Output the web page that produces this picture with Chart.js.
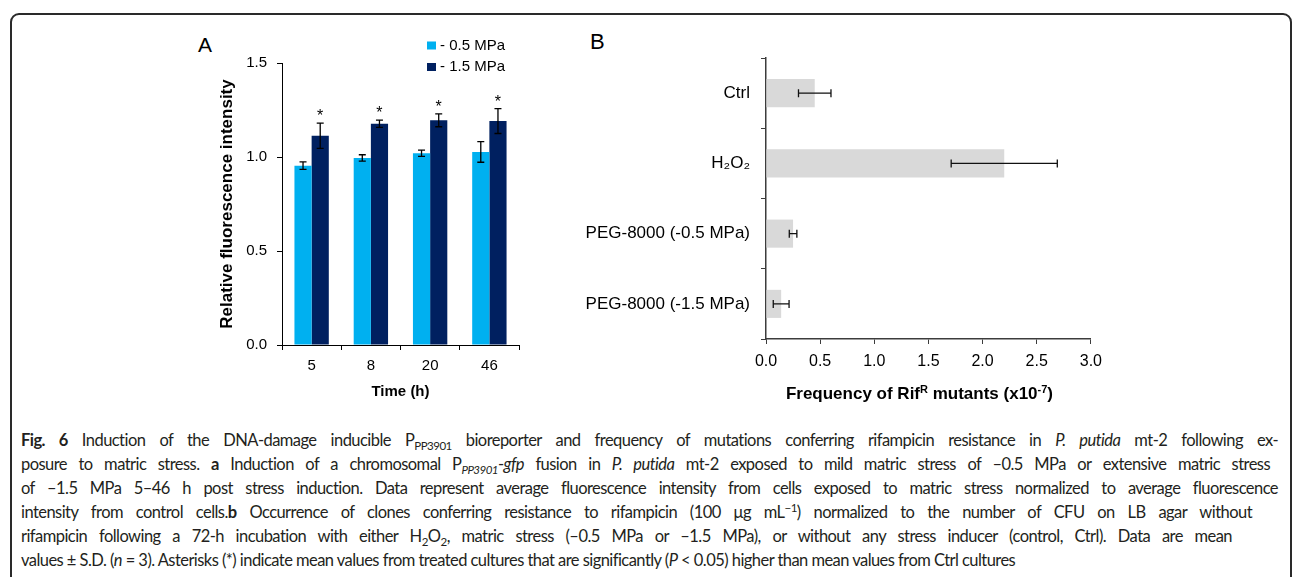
<!DOCTYPE html>
<html>
<head>
<meta charset="utf-8">
<script src="https://cdn.jsdelivr.net/npm/chart.js@4.4.0/dist/chart.umd.min.js"></script>
<style>
  html, body { margin: 0; padding: 0; background: #fff; }
  body { width: 1295px; height: 577px; overflow: hidden; position: relative; font-family: 'Liberation Sans', Arial, sans-serif; }
  #frame { position: absolute; left: 10px; top: 13px; width: 1278px; height: 620px; border: 2px solid #2a2a2a; border-radius: 9px; }
  .panel { position: absolute; line-height: 1; color: #000; }
  #wrapA { position: absolute; left: 213px; top: 20px; width: 317px; height: 385px; }
  #wrapB { position: absolute; left: 570px; top: 20px; width: 540px; height: 386px; }
  #caption { position: absolute; left: 21px; top: 429px; font-family: Lato, sans-serif; font-size: 16.5px; letter-spacing: -0.55px; line-height: 23.9px; color: #231f20; }
  #caption div { text-align: justify; text-align-last: justify; }
  #caption div.last { text-align-last: left; }
  sub, sup { font-size: 0.7em; line-height: 0; }
</style>
</head>
<body>
<div id="frame"></div>
<div class="panel" style="left:198px; top:34px; font-size:21px;">A</div>
<div class="panel" style="left:590px; top:31px; font-size:22px;">B</div>
<div id="wrapA"><canvas id="chartA"></canvas></div>
<div id="wrapB"><canvas id="chartB"></canvas></div>
<div id="caption">
  <div style="width:1257px"><b>Fig. 6</b> Induction of the DNA-damage inducible P<sub>PP3901</sub> bioreporter and frequency of mutations conferring rifampicin resistance in <i>P. putida</i> mt-2 following ex-</div>
  <div style="width:1249px">posure to matric stress. <b>a</b> Induction of a chromosomal P<sub><i>PP3901</i></sub>-<i>gfp</i> fusion in <i>P. putida</i> mt-2 exposed to mild matric stress of –0.5 MPa or extensive matric stress</div>
  <div style="width:1257px">of –1.5 MPa 5–46 h post stress induction. Data represent average fluorescence intensity from cells exposed to matric stress normalized to average fluorescence</div>
  <div style="width:1231px">intensity from control cells.<b>b</b> Occurrence of clones conferring resistance to rifampicin (100 μg mL<sup>−1</sup>) normalized to the number of CFU on LB agar without</div>
  <div style="width:1211px">rifampicin following a 72-h incubation with either H<sub>2</sub>O<sub>2</sub>, matric stress (–0.5 MPa or –1.5 MPa), or without any stress inducer (control, Ctrl). Data are mean</div>
  <div class="last">values ± S.D. (<i>n</i> = 3). Asterisks (*) indicate mean values from treated cultures that are significantly (<i>P</i> &lt; 0.05) higher than mean values from Ctrl cultures</div>
</div>
<script>
// Panel A data
const times = ['5', '8', '20', '46'];
const mildStress = [0.954, 0.995, 1.020, 1.027];
const mildStressSD = [0.020, 0.017, 0.017, 0.055];
const strongStress = [1.113, 1.177, 1.195, 1.191];
const strongStressSD = [0.067, 0.019, 0.034, 0.066];
const significant = [true, true, true, true];
const fluorTicks = [0, 0.5, 1.0, 1.5];

// Panel B data
const treatments = ['Ctrl', 'H₂O₂', 'PEG-8000 (-0.5 MPa)', 'PEG-8000 (-1.5 MPa)'];
const mutantFreq = [0.45, 2.20, 0.25, 0.14];
const mutantFreqSD = [0.15, 0.49, 0.035, 0.073];
const freqTicks = [0, 0.5, 1.0, 1.5, 2.0, 2.5, 3.0];

const FONT = "'Liberation Sans', Arial, sans-serif";
Chart.defaults.font.family = FONT;
Chart.defaults.color = '#000';

const errorBars = {
    id: 'errorBars',
    afterDatasetsDraw: (chart, args, opts) => {
        const { ctx } = chart;
        ctx.save();
        ctx.strokeStyle = opts.color;
        ctx.lineWidth = opts.lineWidth;
        chart.data.datasets.forEach((ds, di) => {
            if (!ds.errors) return;
            const meta = chart.getDatasetMeta(di);
            const vScale = meta.vScale;
            const c = opts.cap / 2;
            meta.data.forEach((bar, i) => {
                const lo = vScale.getPixelForValue(ds.data[i] - ds.errors[i]);
                const hi = vScale.getPixelForValue(ds.data[i] + ds.errors[i]);
                ctx.beginPath();
                if (bar.horizontal) {
                    ctx.moveTo(lo, bar.y); ctx.lineTo(hi, bar.y);
                    ctx.moveTo(lo, bar.y - c); ctx.lineTo(lo, bar.y + c);
                    ctx.moveTo(hi, bar.y - c); ctx.lineTo(hi, bar.y + c);
                } else {
                    ctx.moveTo(bar.x, lo); ctx.lineTo(bar.x, hi);
                    ctx.moveTo(bar.x - c, lo); ctx.lineTo(bar.x + c, lo);
                    ctx.moveTo(bar.x - c, hi); ctx.lineTo(bar.x + c, hi);
                }
                ctx.stroke();
            });
        });
        ctx.restore();
    }
};

const asterisks = {
    id: 'asterisks',
    afterDatasetsDraw: (chart) => {
        const { ctx } = chart;
        const ds = chart.data.datasets[1];
        const meta = chart.getDatasetMeta(1);
        ctx.save();
        ctx.font = '16px ' + FONT;
        ctx.fillStyle = '#000';
        ctx.textAlign = 'center';
        ctx.textBaseline = 'alphabetic';
        meta.data.forEach((bar, i) => {
            if (!significant[i]) return;
            const top = meta.vScale.getPixelForValue(ds.data[i] + ds.errors[i]);
            ctx.fillText('*', bar.x, top - 2);
        });
        ctx.restore();
    }
};

const legendA = {
    id: 'legendA',
    afterDraw: (chart) => {
        const { ctx, chartArea } = chart;
        ctx.save();
        ctx.font = '15px ' + FONT;
        ctx.textBaseline = 'middle';
        chart.data.datasets.forEach((ds, i) => {
            const x = chartArea.right - 92;
            const y = chartArea.top - 17.5 + i * 21.5;
            ctx.fillStyle = ds.backgroundColor;
            ctx.fillRect(x, y - 4, 9, 8);
            ctx.fillStyle = '#000';
            ctx.fillText(ds.label, x + 13, y);
        });
        ctx.restore();
    }
};

const titleB = {
    id: 'titleB',
    afterDraw: (chart) => {
        const { ctx, chartArea } = chart;
        const parts = [['Frequency of Rif', 0], ['R', 1], [' mutants (x10', 0], ['-7', 1], [')', 0]];
        const big = 'bold 17px ' + FONT, small = 'bold 11px ' + FONT;
        ctx.save();
        let total = 0;
        parts.forEach(p => { ctx.font = p[1] ? small : big; total += ctx.measureText(p[0]).width; });
        let x = (chartArea.left + chartArea.right) / 2 - 9 - total / 2;
        const y = chartArea.bottom + 60;
        ctx.fillStyle = '#000';
        ctx.textBaseline = 'alphabetic';
        parts.forEach(p => {
            ctx.font = p[1] ? small : big;
            ctx.fillText(p[0], x, p[1] ? y - 6 : y);
            x += ctx.measureText(p[0]).width;
        });
        ctx.restore();
    }
};

const chartA = new Chart(document.getElementById('chartA'), {
    type: 'bar',
    data: {
        labels: times,
        datasets: [
            { label: '- 0.5 MPa', data: mildStress, errors: mildStressSD, backgroundColor: '#00b0f0' },
            { label: '- 1.5 MPa', data: strongStress, errors: strongStressSD, backgroundColor: '#002060' }
        ]
    },
    options: {
        responsive: true,
        maintainAspectRatio: false,
        animation: false,
        categoryPercentage: 0.58,
        barPercentage: 1.0,
        layout: { padding: { top: 43, right: 11, bottom: 0, left: 0 } },
        plugins: {
            legend: { display: false },
            tooltip: { enabled: false },
            errorBars: { cap: 7, lineWidth: 1.3, color: '#000' }
        },
        scales: {
            x: {
                grid: { drawOnChartArea: false, drawTicks: true, tickLength: 5, color: '#000' },
                border: { color: '#000', width: 1 },
                ticks: { font: { size: 15 }, padding: 7 },
                title: { display: true, text: 'Time (h)', font: { size: 15, weight: 'bold' } },
                afterFit: (scale) => { scale.height = 60; }
            },
            y: {
                min: fluorTicks[0],
                max: fluorTicks[fluorTicks.length - 1],
                grid: { drawOnChartArea: false, drawTicks: true, tickLength: 5, color: '#000' },
                border: { color: '#000', width: 1 },
                ticks: { stepSize: 0.5, font: { size: 15 }, padding: 10, callback: (v) => v.toFixed(1) },
                title: { display: true, text: 'Relative fluorescence intensity', font: { size: 17, weight: 'bold' } },
                afterFit: (scale) => { scale.width = 69; }
            }
        }
    },
    plugins: [errorBars, asterisks, legendA]
});

const chartB = new Chart(document.getElementById('chartB'), {
    type: 'bar',
    data: {
        labels: treatments,
        datasets: [
            { label: 'Rif mutants', data: mutantFreq, errors: mutantFreqSD, backgroundColor: '#d9d9d9' }
        ]
    },
    options: {
        indexAxis: 'y',
        responsive: true,
        maintainAspectRatio: false,
        animation: false,
        categoryPercentage: 1.0,
        barPercentage: 0.4,
        layout: { padding: { top: 38, right: 17, bottom: 0, left: 0 } },
        plugins: {
            legend: { display: false },
            tooltip: { enabled: false },
            errorBars: { cap: 8, lineWidth: 1.3, color: '#111' }
        },
        scales: {
            x: {
                min: freqTicks[0],
                max: freqTicks[freqTicks.length - 1],
                grid: { drawOnChartArea: false, drawTicks: true, tickLength: 5, color: '#3c3c3c' },
                border: { color: '#3c3c3c', width: 1.5 },
                ticks: { stepSize: 0.5, font: { size: 16 }, padding: 8, callback: (v) => v.toFixed(1) },
                afterFit: (scale) => { scale.height = 67; }
            },
            y: {
                grid: { drawOnChartArea: false, drawTicks: true, tickLength: 5, color: '#3c3c3c' },
                border: { color: '#3c3c3c', width: 1.5 },
                ticks: { font: { size: 17 }, padding: 11 },
                afterFit: (scale) => { scale.width = 196; }
            }
        }
    },
    plugins: [errorBars, titleB]
});
</script>
</body>
</html>
